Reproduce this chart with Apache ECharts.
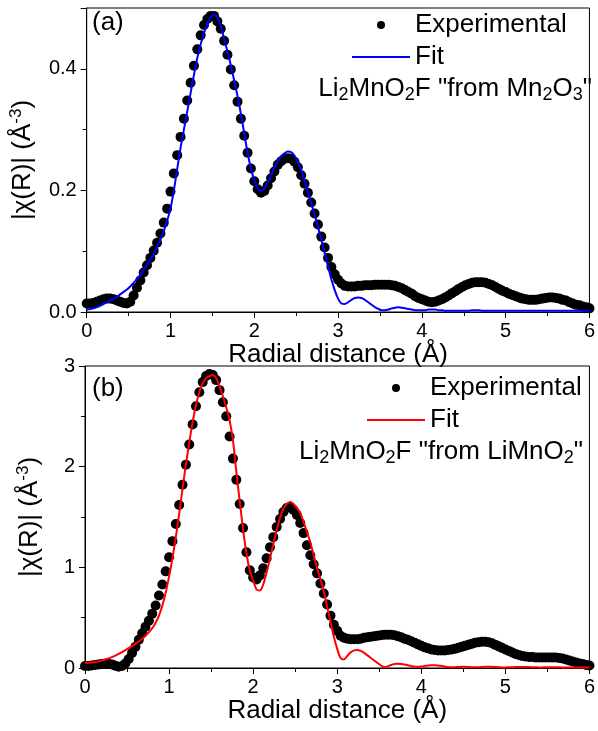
<!DOCTYPE html>
<html>
<head>
<meta charset="utf-8">
<script src="https://cdn.jsdelivr.net/npm/echarts/dist/echarts.min.js"></script>
<style>
html, body { margin: 0; padding: 0; background: #fff; }
#chart-1 { width: 598px; height: 731px; }
</style>
</head>
<body>
<div id="chart-1"></div>
<script>
var dom = document.getElementById("chart-1");
var myChart = echarts.init(dom);
var FONT = 'Liberation Sans, Arial, sans-serif';

// radial grid, 0 to 6 A in 0.04 A steps
var R = [];
for (var i = 0; i <= 150; i++) { R.push(+(i * 0.04).toFixed(2)); }

// (a) Li2MnO2F "from Mn2O3"
var expA = [
    0.014,0.014,0.015,0.017,0.019,0.021,0.022,0.022,0.021,0.019,
    0.017,0.015,0.014,0.017,0.027,0.040,0.052,0.065,0.077,0.089,
    0.101,0.114,0.129,0.147,0.170,0.198,0.228,0.258,0.288,0.318,
    0.348,0.377,0.405,0.432,0.455,0.472,0.482,0.487,0.487,0.478,
    0.466,0.446,0.423,0.399,0.373,0.346,0.318,0.290,0.262,0.236,
    0.215,0.202,0.196,0.199,0.208,0.220,0.231,0.242,0.248,0.252,
    0.253,0.252,0.247,0.238,0.225,0.211,0.196,0.180,0.162,0.144,
    0.124,0.106,0.089,0.074,0.062,0.053,0.047,0.043,0.042,0.042,
    0.042,0.043,0.043,0.044,0.044,0.044,0.045,0.045,0.045,0.045,
    0.045,0.044,0.043,0.041,0.039,0.036,0.033,0.030,0.026,0.023,
    0.021,0.019,0.017,0.016,0.017,0.019,0.021,0.024,0.027,0.031,
    0.034,0.038,0.041,0.044,0.046,0.048,0.049,0.049,0.049,0.048,
    0.046,0.044,0.041,0.038,0.035,0.033,0.030,0.028,0.026,0.024,
    0.022,0.021,0.020,0.020,0.020,0.021,0.022,0.023,0.024,0.024,
    0.023,0.022,0.020,0.019,0.016,0.014,0.012,0.011,0.009,0.008,
    0.006
];
var fitA = [
    0.004,0.005,0.006,0.008,0.010,0.013,0.016,0.019,0.022,0.025,
    0.029,0.033,0.037,0.042,0.048,0.054,0.061,0.069,0.077,0.086,
    0.096,0.107,0.119,0.133,0.150,0.170,0.200,0.235,0.270,0.300,
    0.330,0.360,0.390,0.418,0.440,0.459,0.474,0.485,0.489,0.484,
    0.470,0.450,0.428,0.406,0.381,0.355,0.326,0.294,0.262,0.236,
    0.217,0.204,0.199,0.203,0.213,0.225,0.237,0.248,0.256,0.261,
    0.264,0.263,0.257,0.247,0.233,0.216,0.198,0.179,0.160,0.140,
    0.119,0.097,0.075,0.054,0.036,0.022,0.014,0.013,0.016,0.020,
    0.023,0.024,0.023,0.020,0.016,0.012,0.008,0.005,0.003,0.003,
    0.004,0.006,0.007,0.008,0.007,0.006,0.005,0.004,0.003,0.003,
    0.003,0.003,0.004,0.004,0.004,0.003,0.003,0.002,0.002,0.002,
    0.002,0.002,0.002,0.002,0.002,0.003,0.003,0.003,0.002,0.002,
    0.002,0.002,0.002,0.002,0.002,0.002,0.002,0.002,0.002,0.002,
    0.002,0.002,0.002,0.002,0.002,0.002,0.002,0.002,0.002,0.002,
    0.002,0.002,0.002,0.002,0.002,0.002,0.002,0.002,0.002,0.002,
    0.002
];

// (b) Li2MnO2F "from LiMnO2"
var expB = [
    0.02,0.02,0.025,0.03,0.035,0.04,0.042,0.042,0.036,0.022,
    0.012,0.02,0.045,0.09,0.15,0.21,0.28,0.345,0.41,0.47,
    0.54,0.62,0.72,0.83,0.96,1.10,1.26,1.43,1.62,1.82,
    2.02,2.22,2.42,2.60,2.74,2.84,2.90,2.92,2.91,2.86,
    2.76,2.64,2.50,2.30,2.08,1.87,1.63,1.39,1.15,0.97,
    0.90,0.88,0.92,0.99,1.09,1.20,1.30,1.40,1.48,1.55,
    1.59,1.60,1.57,1.52,1.44,1.34,1.22,1.12,1.03,0.94,
    0.84,0.74,0.63,0.52,0.43,0.37,0.32,0.30,0.29,0.285,
    0.285,0.285,0.29,0.30,0.305,0.31,0.315,0.32,0.325,0.33,
    0.33,0.33,0.325,0.315,0.305,0.29,0.28,0.265,0.25,0.235,
    0.22,0.205,0.195,0.185,0.18,0.175,0.175,0.175,0.18,0.185,
    0.19,0.20,0.21,0.22,0.23,0.24,0.25,0.255,0.26,0.26,
    0.255,0.245,0.23,0.215,0.20,0.185,0.17,0.155,0.14,0.13,
    0.12,0.115,0.11,0.11,0.105,0.105,0.105,0.105,0.105,0.105,
    0.105,0.10,0.095,0.085,0.075,0.065,0.055,0.045,0.04,0.03,
    0.025
];
var fitB = [
    0.05,0.052,0.055,0.06,0.066,0.074,0.084,0.095,0.108,0.122,
    0.14,0.158,0.177,0.197,0.218,0.24,0.265,0.29,0.32,0.355,
    0.395,0.45,0.52,0.62,0.75,0.91,1.09,1.30,1.53,1.78,
    2.02,2.24,2.44,2.61,2.74,2.83,2.88,2.90,2.91,2.88,
    2.80,2.70,2.59,2.46,2.26,1.95,1.66,1.38,1.14,0.97,
    0.87,0.78,0.77,0.83,0.95,1.09,1.23,1.37,1.49,1.58,
    1.63,1.65,1.63,1.59,1.54,1.45,1.35,1.25,1.12,0.99,
    0.88,0.76,0.61,0.46,0.31,0.19,0.10,0.085,0.12,0.155,
    0.175,0.18,0.17,0.15,0.125,0.10,0.075,0.05,0.025,0.008,
    0.015,0.03,0.04,0.042,0.04,0.035,0.028,0.02,0.014,0.012,
    0.015,0.02,0.025,0.028,0.028,0.025,0.02,0.015,0.01,0.008,
    0.008,0.01,0.012,0.012,0.01,0.008,0.007,0.008,0.01,0.012,
    0.013,0.012,0.01,0.008,0.006,0.006,0.007,0.008,0.009,0.01,
    0.01,0.01,0.009,0.008,0.007,0.006,0.006,0.007,0.008,0.008,
    0.008,0.007,0.006,0.006,0.005,0.005,0.005,0.005,0.005,0.005,
    0.005
];

var xTicks = [0, 6, 1];          // min, max, interval
var yTicksA = [0, 0.5, 0.2];
var yTicksB = [0, 3, 1];

function zipR(vals) {
    return R.map(function (r, i) { return [r, vals[i]]; });
}

var subRich = {
    n: { fontSize: 26, lineHeight: 30, fontFamily: FONT, color: '#000' },
    s: { fontSize: 18, lineHeight: 14, verticalAlign: 'bottom', fontFamily: FONT, color: '#000' }
};

function xAxisFor(gridIndex, gap) {
    return {
        type: 'value', gridIndex: gridIndex,
        min: xTicks[0], max: xTicks[1], interval: xTicks[2],
        axisLine: { show: true, onZero: false, lineStyle: { color: '#000', width: 1 } },
        axisTick: { show: true, inside: false, length: 6, lineStyle: { color: '#000' } },
        minorTick: { show: true, splitNumber: 2, length: 4, lineStyle: { color: '#000' } },
        splitLine: { show: false },
        axisLabel: { fontSize: 20, color: '#000', fontFamily: FONT, margin: 9 },
        name: 'Radial distance (Å)', nameLocation: 'middle', nameGap: gap,
        nameTextStyle: { fontSize: 26, color: '#000', fontFamily: FONT }
    };
}

function yAxisFor(gridIndex, t, digits) {
    return {
        type: 'value', gridIndex: gridIndex,
        min: t[0], max: t[1], interval: t[2],
        axisLine: { show: true, onZero: false, lineStyle: { color: '#000', width: 1 } },
        axisTick: { show: true, inside: false, length: 6, lineStyle: { color: '#000' } },
        minorTick: { show: true, splitNumber: 2, length: 4, lineStyle: { color: '#000' } },
        splitLine: { show: false },
        axisLabel: {
            fontSize: 20, color: '#000', fontFamily: FONT, margin: 10, showMaxLabel: digits > 0 ? false : true,
            formatter: function (v) { return v.toFixed(digits); }
        },
        name: '|χ(R)| (Å{sup|-3})', nameLocation: 'middle', nameGap: 40,
        nameTextStyle: {
            fontSize: 26, lineHeight: 30, color: '#000', fontFamily: FONT,
            rich: { sup: { fontSize: 17, lineHeight: 14, verticalAlign: 'top', fontFamily: FONT, color: '#000' } }
        }
    };
}

function legendFor(left, top, fitColor) {
    return {
        orient: 'vertical', left: left, top: top, padding: 0,
        itemWidth: 58, itemHeight: 8, itemGap: 4, selectedMode: false,
        textStyle: { fontSize: 26, lineHeight: 28, color: '#000', fontFamily: FONT },
        data: [
            { name: 'Experimental', icon: 'circle', itemStyle: { color: '#000', opacity: 1 } },
            { name: 'Fit', icon: 'path://M0,0 H58 V2 H0 Z', itemStyle: { color: fitColor, opacity: 1 } }
        ]
    };
}

option = {
    backgroundColor: '#fff',
    animation: false,
    textStyle: { fontFamily: FONT },
    grid: [
        { left: 86, right: 4, top: 8, height: 304, show: true, borderColor: '#000', borderWidth: 1, backgroundColor: 'transparent' },
        { left: 85, right: 4, top: 366, height: 302, show: true, borderColor: '#000', borderWidth: 1, backgroundColor: 'transparent' }
    ],
    title: [
        { text: '(a)', left: 92, top: 10, padding: 0, textStyle: { fontSize: 26, fontWeight: 'normal', color: '#000', fontFamily: FONT } },
        { text: '{n|Li}{s|2}{n|MnO}{s|2}{n|F "from Mn}{s|2}{n|O}{s|3}{n|"}', right: 6, top: 74, padding: 0,
          textStyle: { fontWeight: 'normal', rich: subRich } },
        { text: '(b)', left: 92, top: 376, padding: 0, textStyle: { fontSize: 26, fontWeight: 'normal', color: '#000', fontFamily: FONT } },
        { text: '{n|Li}{s|2}{n|MnO}{s|2}{n|F "from LiMnO}{s|2}{n|"}', right: 15, top: 437, padding: 0,
          textStyle: { fontWeight: 'normal', rich: subRich } }
    ],
    legend: [
        legendFor(352, 11, '#0000ff'),
        legendFor(367, 374, '#ff0000')
    ],
    xAxis: [xAxisFor(0, 26), xAxisFor(1, 30)],
    yAxis: [yAxisFor(0, yTicksA, 1), yAxisFor(1, yTicksB, 0)],
    series: [
        {
            name: 'Experimental', type: 'scatter', xAxisIndex: 0, yAxisIndex: 0, z: 2,
            symbol: 'circle', symbolSize: 10, itemStyle: { color: '#000', opacity: 1 },
            data: zipR(expA)
        },
        {
            name: 'Fit', type: 'line', xAxisIndex: 0, yAxisIndex: 0, z: 3,
            symbol: 'none', showSymbol: false, smooth: 0.3,
            lineStyle: { color: '#0000ff', width: 2 }, itemStyle: { color: '#0000ff' },
            data: zipR(fitA)
        },
        {
            name: 'Experimental', type: 'scatter', xAxisIndex: 1, yAxisIndex: 1, z: 2,
            symbol: 'circle', symbolSize: 10, itemStyle: { color: '#000', opacity: 1 },
            data: zipR(expB)
        },
        {
            name: 'Fit', type: 'line', xAxisIndex: 1, yAxisIndex: 1, z: 3,
            symbol: 'none', showSymbol: false, smooth: 0.3,
            lineStyle: { color: '#ff0000', width: 2 }, itemStyle: { color: '#ff0000' },
            data: zipR(fitB)
        }
    ]
};
if (option && typeof option === "object") {
    myChart.setOption(option, true);
}
</script>
</body>
</html>
